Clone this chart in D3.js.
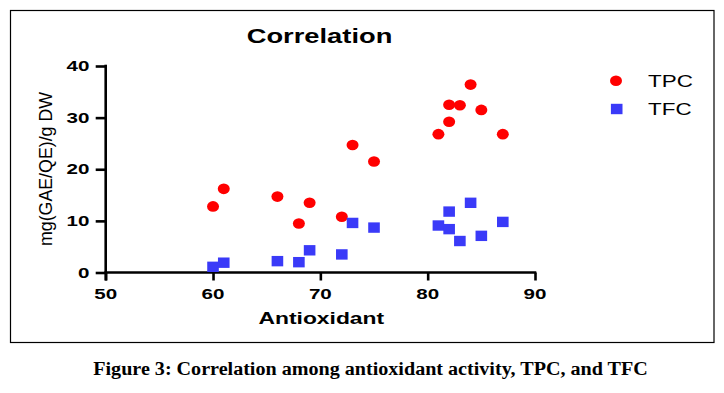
<!DOCTYPE html>
<html><head><meta charset="utf-8">
<script src="https://cdn.jsdelivr.net/npm/d3@7"></script>
<style>
html,body{margin:0;padding:0;background:#fff;}
svg{display:block;}
</style></head>
<body>
<svg id="chart" width="724" height="393"></svg>
<script>
// ---- data ----
const antioxidant = [60, 61, 66, 68, 69, 72, 73, 75, 81, 82, 82, 83, 84, 85, 87];
const tpc = [12.8, 16.2, 14.7, 9.5, 13.5, 10.8, 24.7, 21.5, 26.8, 32.5, 29.2, 32.4, 36.4, 31.5, 26.8];
const tfc = [1.1, 1.9, 2.2, 2.0, 4.3, 3.5, 9.6, 8.7, 9.1, 11.8, 8.4, 6.1, 13.5, 7.1, 9.8];
const xTicks = [50, 60, 70, 80, 90];
const yTicks = [0, 10, 20, 30, 40];
const seriesNames = ["TPC", "TFC"];
const chartTitle = "Correlation";
const xTitle = "Antioxidant";
const yTitle = "mg(GAE/QE)/g DW";
const caption = "Figure 3: Correlation among antioxidant activity, TPC, and TFC";

const svg = d3.select("#chart");
const SANS = "'Liberation Sans', Arial, sans-serif";
const SERIF = "'Liberation Serif', 'Times New Roman', serif";

// frame
svg.append("rect").attr("x", 10.5).attr("y", 10.5).attr("width", 703.5).attr("height", 332)
  .attr("fill", "none").attr("stroke", "#000").attr("stroke-width", 1.2);

const x = d3.scaleLinear().domain([50, 90]).range([105.7, 535]);
const y = d3.scaleLinear().domain([0, 40]).range([272.5, 66]);

// helper: text with horizontal stretch
function stretchText(g, txt, px, py, size, weight, anchor, sx, family) {
  return g.append("text")
    .attr("transform", `translate(${px},${py}) scale(${sx},1)`)
    .attr("text-anchor", anchor)
    .attr("font-family", family || SANS)
    .attr("font-size", size)
    .attr("font-weight", weight)
    .attr("fill", "#000")
    .text(txt);
}

// axes
const xAxis = d3.axisBottom(x).tickValues(xTicks).tickSizeOuter(0).tickSize(8).tickFormat("");
const yAxis = d3.axisLeft(y).tickValues(yTicks).tickSizeOuter(0).tickSize(10).tickFormat("");

const gx = svg.append("g").attr("transform", `translate(0,${y(0)})`).call(xAxis);
const gy = svg.append("g").attr("transform", `translate(${x(50)},0)`).call(yAxis);
[gx, gy].forEach(g => {
  g.selectAll("path,line").attr("stroke", "#000").attr("stroke-width", 2.6);
});
gx.select(".domain").attr("d", `M${x(50) - 1.3},0H${x(90) + 1.3}`);
gy.select(".domain").attr("d", `M0,${y(40) - 1.3}V${y(0) + 8}`);

// tick labels
const lab = svg.append("g");
xTicks.forEach(v => stretchText(lab, String(v), x(v), 298.5, 14, "bold", "middle", 1.47));
yTicks.forEach(v => stretchText(lab, String(v), 89.5, y(v) + 5, 14, "bold", "end", 1.47));

// titles
stretchText(svg, chartTitle, 319.5, 42.7, 19.5, "bold", "middle", 1.40);
stretchText(svg, xTitle, 321.3, 324.3, 16.8, "bold", "middle", 1.36);
svg.append("text")
  .attr("transform", `translate(52,169) rotate(-90)`)
  .attr("text-anchor", "middle")
  .attr("font-family", SANS)
  .attr("font-size", 17.8)
  .attr("fill", "#000")
  .text(yTitle);

// points
const red = "#ff0000", blue = "#3a3af8";
const pts = svg.append("g");
pts.selectAll("ellipse.tpc").data(antioxidant.map((a, i) => [a, tpc[i]])).join("ellipse")
  .attr("class", "tpc")
  .attr("cx", d => x(d[0])).attr("cy", d => y(d[1]))
  .attr("rx", 6).attr("ry", 5.3).attr("fill", red);
pts.selectAll("rect.tfc").data(antioxidant.map((a, i) => [a, tfc[i]])).join("rect")
  .attr("class", "tfc")
  .attr("x", d => x(d[0]) - 5.8).attr("y", d => y(d[1]) - 5.2)
  .attr("width", 11.6).attr("height", 10.4).attr("fill", blue);

// legend
const leg = svg.append("g");
leg.append("ellipse").attr("cx", 616).attr("cy", 80.7).attr("rx", 6).attr("ry", 5.3).attr("fill", red);
leg.append("rect").attr("x", 616.7 - 5.8).attr("y", 109 - 5.2).attr("width", 11.6).attr("height", 10.4).attr("fill", blue);
stretchText(leg, seriesNames[0], 648, 86.5, 17, "normal", "start", 1.32);
stretchText(leg, seriesNames[1], 648, 114.5, 17, "normal", "start", 1.32);

// caption
const cap = svg.append("text")
  .attr("x", 0).attr("y", 0)
  .attr("text-anchor", "middle")
  .attr("font-family", SERIF)
  .attr("font-size", 19)
  .attr("font-weight", "bold")
  .attr("fill", "#000")
  .text(caption);
const w = cap.node().getComputedTextLength();
const sx = 555 / w;
cap.attr("transform", `translate(370.5,375) scale(${sx},1)`);
</script>
</body></html>
